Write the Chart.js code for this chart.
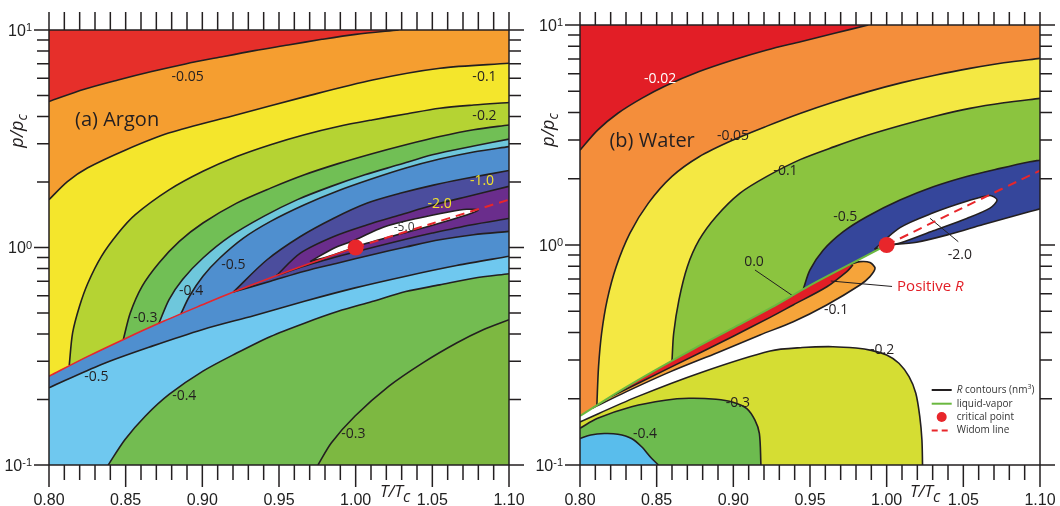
<!DOCTYPE html>
<html><head><meta charset="utf-8">
<script src="https://cdn.jsdelivr.net/npm/chart.js@4.4.1/dist/chart.umd.min.js"></script>
<style>
html,body{margin:0;padding:0;background:#fff;}
#wrap{position:relative;width:1060px;height:506px;overflow:hidden;}
canvas{position:absolute;top:0;}
</style></head><body>
<div id="wrap"><canvas id="ca" width="530" height="506" style="left:0"></canvas><canvas id="cb" width="530" height="506" style="left:530px"></canvas></div>
<script>
// ---------- tick labels ----------
const X_TICK_VALUES = [0.80, 0.85, 0.90, 0.95, 1.00, 1.05, 1.10];
const X_TICK_LABELS = ['0.80', '0.85', '0.90', '0.95', '1.00', '1.05', '1.10'];
const Y_DECADES = [0.1, 1, 10];
const Y_TICK_EXPONENTS = ['-1', '0', '1'];

// ---------- (a) Argon: contour lines [T/Tc, p/pc] ----------
const argonLV = [[0.8,0.256],[0.825,0.315],[0.85,0.382],[0.875,0.459],[0.9,0.545],[0.9202,0.624],[0.9485,0.744],[0.975,0.87],[1.0,1.0]];
const argonC005 = [[0.8,4.69],[0.823,5.34],[0.845,5.89],[0.867,6.44],[0.889,6.98],[0.911,7.49],[0.934,8.04],[0.956,8.53],[0.978,9.06],[1.0,9.55],[1.028,10]];
const argonC01 = [[0.8,1.66],[0.812,2.01],[0.825,2.32],[0.85,2.81],[0.878,3.36],[0.922,4.07],[0.967,4.94],[1.011,5.89],[1.055,6.67],[1.1,7.03]];
const argonC02 = [[0.8132,0.287],[0.8154,0.405],[0.8199,0.537],[0.8254,0.687],[0.8342,0.911],[0.8452,1.166],[0.8563,1.416],[0.8783,1.84],[0.9004,2.24],[0.9224,2.62],[0.9445,2.97],[0.9666,3.30],[0.9886,3.60],[1.0107,3.86],[1.0327,4.11],[1.0548,4.37],[1.0769,4.52],[1.1,4.64]];
const argonC03u = [[0.8485,0.378],[0.853,0.50],[0.8607,0.663],[0.8717,0.849],[0.885,1.067],[0.9004,1.296],[0.9224,1.60],[0.9445,1.875],[0.9666,2.16],[0.9886,2.43],[1.0107,2.70],[1.0327,2.97],[1.0548,3.24],[1.0769,3.48],[1.1,3.66]];
const argonC04u = [[0.8717,0.448],[0.8783,0.576],[0.8871,0.713],[0.9004,0.895],[0.918,1.125],[0.94,1.39],[0.962,1.66],[0.984,1.91],[1.006,2.16],[1.028,2.40],[1.05,2.67],[1.077,2.93],[1.1,3.15]];
const argonC05u = [[0.886,0.495],[0.8916,0.597],[0.9004,0.738],[0.9114,0.895],[0.9268,1.105],[0.9445,1.319],[0.9666,1.573],[0.9886,1.824],[1.0107,2.07],[1.0327,2.32],[1.0548,2.55],[1.0769,2.75],[1.1,2.91]];
const argonC10u = [[0.9202,0.624],[0.942,0.876],[0.9637,1.121],[0.9854,1.36],[1.0072,1.597],[1.0289,1.774],[1.0507,1.936],[1.0724,2.08],[1.1,2.26]];
const argonC20u = [[0.9485,0.744],[0.9637,0.94],[0.9854,1.121],[1.0072,1.269],[1.0289,1.41],[1.0507,1.567],[1.0724,1.712],[1.1,1.91]];
const argonC50 = [[0.9702,0.861],[0.9854,0.99],[0.9996,1.083],[1.018,1.24],[1.0398,1.36],[1.0615,1.461],[1.0724,1.498],[1.08,1.486],[1.0724,1.41],[1.0507,1.269],[1.0289,1.153],[1.0072,1.045],[0.9854,0.924],[0.9702,0.861]];
const argonC20l = [[0.9485,0.744],[0.97,0.835],[1.0,0.955],[1.03,1.08],[1.05,1.165],[1.075,1.27],[1.1,1.36]];
const argonC10l = [[0.9202,0.624],[0.9445,0.70],[0.9666,0.778],[0.9886,0.849],[1.0107,0.927],[1.0327,1.005],[1.0548,1.086],[1.0769,1.145],[1.1,1.186]];
const argonC05l = [[0.8,0.2265],[0.8342,0.29],[0.8673,0.352],[0.9004,0.42],[0.9335,0.486],[0.9666,0.566],[0.9996,0.652],[1.0327,0.738],[1.0658,0.826],[1.1,0.911]];
const argonC04l = [[0.8386,0.1],[0.8496,0.131],[0.8629,0.168],[0.8783,0.211],[0.9004,0.27],[0.9224,0.327],[0.9445,0.39],[0.9666,0.449],[0.9886,0.509],[1.0107,0.564],[1.0327,0.627],[1.0548,0.673],[1.0769,0.722],[1.1,0.758]];
const argonC03l = [[0.9754,0.1],[0.9842,0.1266],[0.9996,0.168],[1.0217,0.2305],[1.0438,0.295],[1.0658,0.364],[1.0835,0.42],[1.1,0.466]];
const argonWidom = [[1.0,1.0],[1.05,1.29],[1.1,1.66]];
const argonCritical = [[1.0,1.0]];

// ---------- (b) Water: contour lines [T/Tc, p/pc] ----------
const waterLV = [[0.8,0.167],[0.825,0.215],[0.85,0.272],[0.875,0.34],[0.9,0.42],[0.925,0.52],[0.95,0.655],[0.975,0.81],[1.0,1.0]];
const waterC002 = [[0.8,2.70],[0.8115,3.33],[0.8247,3.97],[0.8402,4.64],[0.8556,5.28],[0.8777,6.14],[0.8998,6.93],[0.9219,7.70],[0.9439,8.40],[0.966,9.17],[0.988,10]];
const waterC005 = [[0.811,0.187],[0.8121,0.28],[0.8141,0.397],[0.8177,0.562],[0.8236,0.797],[0.8325,1.13],[0.8446,1.55],[0.86,2.05],[0.8777,2.52],[0.8998,3.0],[0.9219,3.47],[0.9439,3.97],[0.966,4.48],[0.988,4.98],[1.01,5.47],[1.0322,5.93],[1.0543,6.35],[1.0764,6.74],[1.1,7.05]];
const waterC01 = [[0.86,0.298],[0.8611,0.397],[0.8645,0.562],[0.87,0.797],[0.8777,1.054],[0.8887,1.345],[0.9042,1.717],[0.9219,2.05],[0.9439,2.45],[0.966,2.80],[0.988,3.16],[1.0102,3.51],[1.0322,3.86],[1.0543,4.18],[1.0764,4.43],[1.1,4.64]];
const waterC05u = [[0.9457,0.632],[0.95,0.77],[0.9587,0.949],[0.9717,1.15],[0.987,1.345],[1.0087,1.60],[1.0304,1.84],[1.0522,2.05],[1.074,2.23],[1.0935,2.39],[1.1,2.43]];
const waterC05l = [[1.0,1.0],[1.0196,1.03],[1.0413,1.12],[1.063,1.24],[1.0935,1.42],[1.1,1.46]];
const waterC20 = [[0.992,0.955],[1.0087,1.2],[1.0304,1.40],[1.0522,1.58],[1.0674,1.68],[1.072,1.6],[1.0674,1.47],[1.0522,1.32],[1.0304,1.16],[1.0087,1.02],[0.998,0.98],[0.992,0.955]];
const waterC00 = [[0.82,0.204],[0.86,0.28],[0.9,0.385],[0.924,0.469],[0.939,0.534],[0.961,0.646],[0.974,0.757],[0.978,0.811]];
const waterC01b = [[0.808,0.181],[0.83,0.215],[0.8587,0.265],[0.89,0.325],[0.9174,0.39],[0.9391,0.448],[0.9609,0.534],[0.9826,0.658],[0.9891,0.718],[0.9924,0.783],[0.9891,0.832],[0.9826,0.84],[0.976,0.815]];
const waterC02 = [[0.8,0.157],[0.837,0.204],[0.88,0.265],[0.924,0.33],[0.945,0.342],[0.965,0.345],[0.98,0.34],[0.99,0.332],[1.0,0.316],[1.008,0.29],[1.0146,0.252],[1.019,0.212],[1.0216,0.166],[1.023,0.13],[1.0234,0.1]];
const waterC03 = [[0.8,0.147],[0.8115,0.163],[0.8336,0.184],[0.8556,0.197],[0.8711,0.201],[0.8887,0.199],[0.8998,0.193],[0.9086,0.181],[0.9141,0.160],[0.917,0.139],[0.918,0.1]];
const waterC04 = [[0.8,0.132],[0.807,0.137],[0.8159,0.139],[0.8247,0.138],[0.8336,0.132],[0.8402,0.121],[0.8468,0.107],[0.8512,0.1]];
const waterWidom = [[1.0,1.0],[1.05,1.48],[1.1,2.18]];
const waterCritical = [[1.0,1.0]];
const waterLeaders = [
  [[0.9141,0.77],[0.939,0.586]],
  [[0.9635,0.686],[1.0035,0.648]],
  [[1.0283,1.322],[1.0467,1.035]]
];

// ---------- contour labels: [text, T/Tc, p/pc] ----------
const argonLabels = [['-0.05',0.8904,6.06],['-0.1',1.084,6.06],['-0.2',1.084,4.03],['-0.5',0.9202,0.834],['-0.4',0.8927,0.63],['-0.3',0.8629,0.475],['-0.5',0.8309,0.2535],['-0.4',0.8882,0.2075],['-0.3',0.9985,0.139]];
const argonYellowLabels = [['-1.0',1.0824,2.03],['-2.0',1.0548,1.59]];
const argonSmallLabels = [['-5.0',1.0316,1.24]];
const waterLabels = [['-0.05',0.8998,3.14],['-0.1',0.934,2.18],['-0.5',0.973,1.336],['-2.0',1.0477,0.90],['0.0',0.9135,0.834],['-0.1',0.967,0.507],['-0.2',0.997,0.333],['-0.3',0.903,0.191],['-0.4',0.8424,0.138]];
const waterWhiteLabels = [['-0.02',0.8523,5.68]];

// ---------- helpers ----------
const INK = '#231f20';
const TENSION = 0.3;
const toXY = arr => arr.map(p => ({x: p[0], y: p[1]}));
function poly(...parts) {
  const out = [];
  for (const p of parts) { out.push(p[0]); out.push(...p); out.push(p[p.length - 1]); }
  return toXY(out);
}
function fillDs(data, color) {
  return {data, showLine: true, fill: 'shape', backgroundColor: color, borderColor: 'rgba(0,0,0,0)', borderWidth: 0, pointRadius: 0, tension: TENSION};
}
function lineDs(arr, color, width, dash) {
  return {data: toXY(arr), showLine: true, fill: false, borderColor: color, borderWidth: width, borderDash: dash || [], pointRadius: 0, tension: TENSION, borderCapStyle: 'butt', borderJoinStyle: 'round'};
}
function pointDs(arr, color, r) {
  return {data: toXY(arr), showLine: false, pointRadius: r, pointBackgroundColor: color, pointBorderWidth: 0, pointBorderColor: color};
}
const bottomAt = x => [[x, 0.1]];
const sliceX = (arr, lo, hi) => arr.filter(p => p[0] >= lo - 1e-9 && p[0] <= hi + 1e-9);

function drawText(ctx, s, x, y, font, color, align, baseline) {
  ctx.font = font; ctx.fillStyle = color; ctx.textAlign = align || 'center'; ctx.textBaseline = baseline || 'middle';
  ctx.fillText(s, x, y);
}

function makeDecor(cfg) {
  return {
    id: 'decor',
    afterDraw(chart) {
      const {ctx, chartArea: a} = chart;
      const xs = chart.scales.x, ys = chart.scales.y;
      ctx.save();
      for (const L of cfg.labels) for (const [t, x, y] of L.items)
        drawText(ctx, t, xs.getPixelForValue(x), ys.getPixelForValue(y), L.font, L.color);
      drawText(ctx, cfg.title[0], xs.getPixelForValue(cfg.title[1]), ys.getPixelForValue(cfg.title[2]), '20px "Open Sans"', INK, 'left');
      ctx.strokeStyle = INK; ctx.lineWidth = 1.5; ctx.lineCap = 'butt';
      ctx.beginPath();
      ctx.rect(a.left, a.top, a.right - a.left, a.bottom - a.top);
      for (let i = 0; i <= 30; i++) {
        const px = xs.getPixelForValue(0.8 + i * 0.01);
        const major = i % 5 === 0;
        ctx.moveTo(px, a.bottom); ctx.lineTo(px, a.bottom + (major ? 22 : 15));
        ctx.moveTo(px, a.top); ctx.lineTo(px, a.top - cfg.topTick);
      }
      for (let d = 0; d < 2; d++) for (let m = 1; m <= 9; m++) {
        const py = ys.getPixelForValue(m * Y_DECADES[d]);
        const len = m === 1 ? 15 : 12;
        ctx.moveTo(a.left, py); ctx.lineTo(a.left - len, py);
        ctx.moveTo(a.right, py); ctx.lineTo(a.right + len, py);
      }
      const pTop = ys.getPixelForValue(Y_DECADES[2]);
      ctx.moveTo(a.left, pTop); ctx.lineTo(a.left - 15, pTop);
      ctx.moveTo(a.right, pTop); ctx.lineTo(a.right + 15, pTop);
      ctx.stroke();
      X_TICK_VALUES.forEach((v, i) => drawText(ctx, X_TICK_LABELS[i], xs.getPixelForValue(v), a.bottom + 40, '16px "Liberation Sans"', '#222', 'center', 'alphabetic'));
      Y_DECADES.forEach((v, i) => {
        const py = ys.getPixelForValue(v);
        ctx.font = '11px "Liberation Sans"';
        const ew = ctx.measureText(Y_TICK_EXPONENTS[i]).width;
        const right = a.left - 17;
        drawText(ctx, Y_TICK_EXPONENTS[i], right - ew, py + 1, '11px "Liberation Sans"', '#222', 'left', 'alphabetic');
        drawText(ctx, '10', right - ew, py + 5.5, '16px "Liberation Sans"', '#222', 'right', 'alphabetic');
      });
      ctx.save();
      ctx.translate(cfg.yTitleX, cfg.yTitleY); ctx.rotate(-Math.PI / 2);
      ctx.font = 'italic 18px "Open Sans"';
      const w1 = ctx.measureText('p/p').width;
      ctx.font = 'italic 14px "Open Sans"';
      const w2 = ctx.measureText('c').width;
      drawText(ctx, 'p/p', -(w1 + w2) / 2, 0, 'italic 18px "Open Sans"', INK, 'left', 'alphabetic');
      drawText(ctx, 'c', -(w1 + w2) / 2 + w1, 4, 'italic 14px "Open Sans"', INK, 'left', 'alphabetic');
      ctx.restore();
      ctx.font = 'italic 17px "Open Sans"';
      const tw = ctx.measureText('T/T').width;
      drawText(ctx, 'T/T', 380, 497, 'italic 17px "Open Sans"', INK, 'left', 'alphabetic');
      drawText(ctx, 'c', 380 + tw, 502, 'italic 16px "Open Sans"', INK, 'left', 'alphabetic');
      if (cfg.extra) cfg.extra(chart, xs, ys);
      ctx.restore();
    }
  };
}

function buildChart(id, pad, datasets, decor) {
  const ds = datasets.map((d, i) => Object.assign({order: datasets.length - i}, d));
  return new Chart(document.getElementById(id), {
    type: 'scatter',
    data: {datasets: ds},
    options: {
      responsive: false, animation: false, events: [],
      layout: {padding: pad},
      plugins: {legend: {display: false}, tooltip: {enabled: false}},
      scales: {
        x: {type: 'linear', min: 0.8, max: 1.1, display: false},
        y: {type: 'logarithmic', min: 0.1, max: 10, display: false}
      }
    },
    plugins: [decor]
  });
}

// ---------- panel (a) ----------
const corners = [[[0.8,0.1]],[[1.1,0.1]],[[1.1,10]],[[0.8,10]]];
const RB = [[1.1,0.1]], LB = [[0.8,0.1]], RT = [[1.1,10]];
const lvA20 = sliceX(argonLV, 0.8, argonC20l[0][0]);
const lvA10 = sliceX(argonLV, 0.8, argonC10l[0][0]);
const argonDatasets = [
  fillDs(poly(...corners), '#e62f2a'),
  fillDs(poly(argonC005, RT, RB, LB), '#f59e30'),
  fillDs(poly(argonC01, RB, LB), '#f4e62c'),
  fillDs(poly(argonC02, RB, bottomAt(argonC02[0][0])), '#b5d333'),
  fillDs(poly(argonC03u, RB, bottomAt(argonC03u[0][0])), '#71bf55'),
  fillDs(poly(argonC04u, RB, bottomAt(argonC04u[0][0])), '#6ec7dc'),
  fillDs(poly(argonC05u, RB, bottomAt(argonC05u[0][0])), '#4f8fcf'),
  fillDs(poly(argonC10u, RB, bottomAt(argonC10u[0][0])), '#4b4d9d'),
  fillDs(poly(argonC20u, RB, bottomAt(argonC20u[0][0])), '#6a2d8c'),
  fillDs(poly(lvA20, argonC20l, RB, LB), '#4b4d9d'),
  fillDs(poly(argonC10l, RB, LB, lvA10), '#4f8fcf'),
  fillDs(poly(argonC05l, RB, LB), '#6fc8ef'),
  fillDs(poly(argonC04l, RB), '#73bc51'),
  fillDs(poly(argonC03l, RB), '#7db841'),
  fillDs(poly(argonC50), '#ffffff'),
  ...[argonC005, argonC01, argonC02, argonC03u, argonC04u, argonC05u, argonC10u, argonC20u, argonC50, argonC20l, argonC10l, argonC05l, argonC04l, argonC03l].map(c => lineDs(c, INK, 1.6)),
  lineDs(argonLV, '#e8262b', 1.6),
  lineDs(argonWidom, '#e8262b', 2, [9, 6]),
  pointDs(argonCritical, '#e8262b', 8)
];
buildChart('ca', {left: 49, right: 21, top: 30, bottom: 41}, argonDatasets, makeDecor({
  labels: [
    {items: argonLabels, font: '14px "Open Sans"', color: INK},
    {items: argonYellowLabels, font: '14px "Open Sans"', color: '#f2e22d'},
    {items: argonSmallLabels, font: '12px "Open Sans"', color: '#3a3a3a'}
  ],
  title: ['(a) Argon', 0.817, 3.86],
  topTick: 18, yTitleX: 23, yTitleY: 131
}));

// ---------- panel (b) ----------
const lvB01 = sliceX(waterLV, waterC01b[0][0], waterC01b[waterC01b.length - 1][0]).reverse();
const lvB00 = sliceX(waterLV, waterC00[0][0], waterC00[waterC00.length - 1][0]).reverse();
const waterDatasets = [
  fillDs(poly(...corners), '#e21e26'),
  fillDs(poly(waterC002, RT, RB, LB), '#f48e3b'),
  fillDs(poly(waterC005, RB, bottomAt(waterC005[0][0])), '#f4e843'),
  fillDs(poly(waterC01, RB, bottomAt(waterC01[0][0])), '#8bc43f'),
  fillDs(poly(waterC05u, RB, bottomAt(waterC05u[0][0])), '#35469b'),
  fillDs(poly(waterLV, waterC05l, RB, LB), '#ffffff'),
  fillDs(poly(waterC01b, lvB01), '#f6a43a'),
  fillDs(poly(waterC00, lvB00), '#e21e26'),
  fillDs(poly(waterC02, LB), '#d5dd33'),
  fillDs(poly(waterC03, LB), '#6dbb4f'),
  fillDs(poly(waterC04, LB), '#59bdec'),
  fillDs(poly(waterC20), '#ffffff'),
  ...[waterC002, waterC005, waterC01, waterC05u, waterC05l, waterC20, waterC01b, waterC00, waterC02, waterC03, waterC04].map(c => lineDs(c, INK, 1.6)),
  ...waterLeaders.map(c => Object.assign(lineDs(c, INK, 1), {tension: 0})),
  lineDs(waterLV, '#6ab83f', 2),
  lineDs(waterWidom, '#e8262b', 2, [9, 6]),
  pointDs(waterCritical, '#e8262b', 8)
];
buildChart('cb', {left: 50, right: 20, top: 25, bottom: 41}, waterDatasets, makeDecor({
  labels: [
    {items: waterLabels, font: '14px "Open Sans"', color: INK},
    {items: waterWhiteLabels, font: '14px "Open Sans"', color: '#ffffff'}
  ],
  title: ['(b) Water', 0.8192, 2.95],
  topTick: 13, yTitleX: 24, yTitleY: 130,
  extra(chart, xs, ys) {
    const ctx = chart.ctx;
    const px = xs.getPixelForValue(1.0068), py = ys.getPixelForValue(0.647);
    ctx.font = '15px "Open Sans"';
    const w = ctx.measureText('Positive ').width;
    drawText(ctx, 'Positive ', px, py, '15px "Open Sans"', '#e21e26', 'left');
    drawText(ctx, 'R', px + w, py, 'italic 15px "Open Sans"', '#e21e26', 'left');
    const lx0 = 401.7, lx1 = 421.7, tx = 426.7, rows = [390, 403.7, 417, 430.5];
    ctx.lineWidth = 2;
    ctx.strokeStyle = INK; ctx.beginPath(); ctx.moveTo(lx0, rows[0]); ctx.lineTo(lx1, rows[0]); ctx.stroke();
    ctx.strokeStyle = '#6ab83f'; ctx.beginPath(); ctx.moveTo(lx0, rows[1]); ctx.lineTo(lx1, rows[1]); ctx.stroke();
    ctx.fillStyle = '#e8262b'; ctx.beginPath(); ctx.arc((lx0 + lx1) / 2, rows[2], 5, 0, Math.PI * 2); ctx.fill();
    ctx.strokeStyle = '#e8262b'; ctx.setLineDash([6, 4]); ctx.beginPath(); ctx.moveTo(lx0, rows[3]); ctx.lineTo(lx1, rows[3]); ctx.stroke(); ctx.setLineDash([]);
    const f = '10px "Open Sans"', col = '#333';
    ctx.font = 'italic ' + f;
    const rw = ctx.measureText('R').width;
    drawText(ctx, 'R', tx, rows[0], 'italic ' + f, col, 'left');
    ctx.font = f;
    const cw = ctx.measureText(' contours (nm').width;
    drawText(ctx, ' contours (nm', tx + rw, rows[0], f, col, 'left');
    drawText(ctx, '3', tx + rw + cw, rows[0] - 3, '7px "Open Sans"', col, 'left');
    ctx.font = '7px "Open Sans"';
    const sw = ctx.measureText('3').width;
    drawText(ctx, ')', tx + rw + cw + sw, rows[0], f, col, 'left');
    drawText(ctx, 'liquid-vapor', tx, rows[1], f, col, 'left');
    drawText(ctx, 'critical point', tx, rows[2], f, col, 'left');
    drawText(ctx, 'Widom line', tx, rows[3], f, col, 'left');
  }
}));
</script>
</body></html>
